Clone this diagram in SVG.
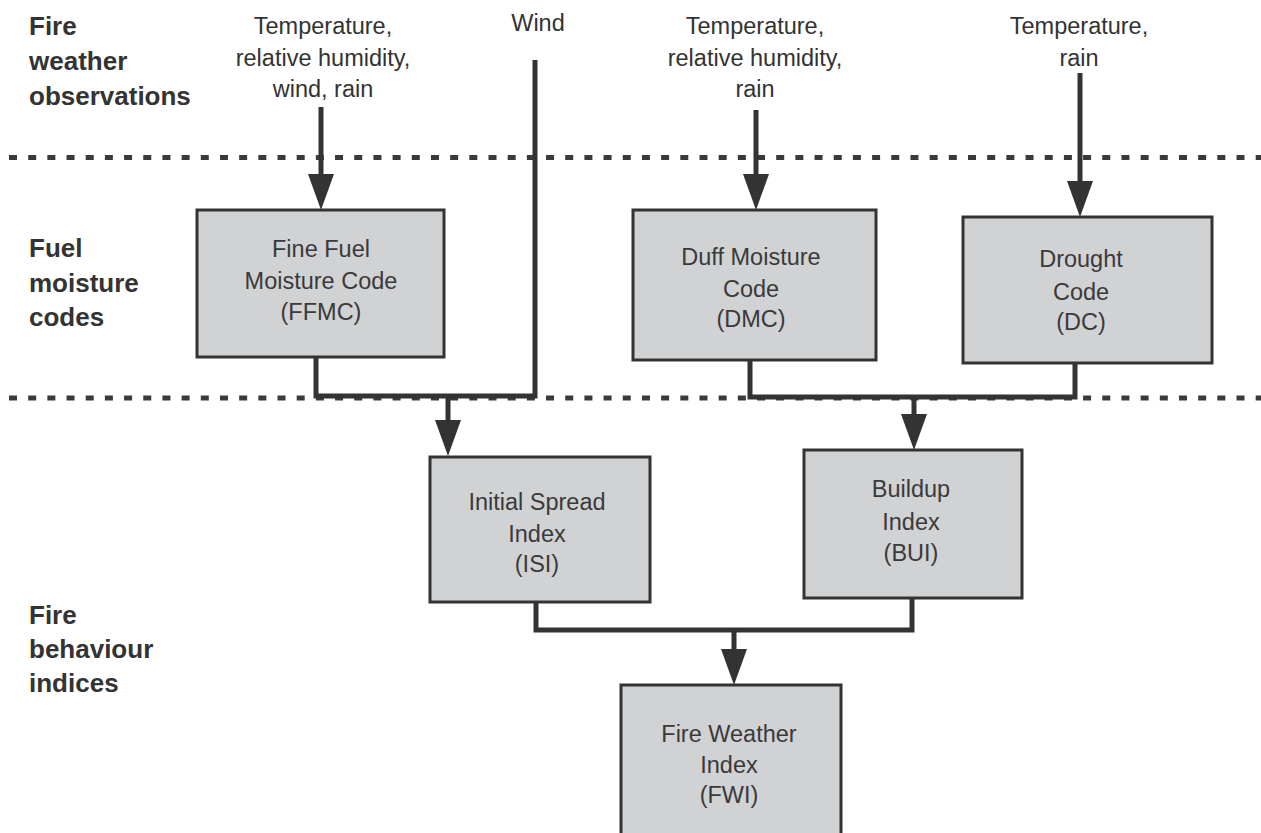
<svg xmlns="http://www.w3.org/2000/svg" width="1261" height="833" viewBox="0 0 1261 833">
<style>
  .lbl { font-family: "Liberation Sans", Arial, sans-serif; font-weight: bold; font-size: 26px; fill: #333; }
  .obs { font-family: "Liberation Sans", Arial, sans-serif; font-size: 23.5px; fill: #333; text-anchor: middle; }
  .txt { font-family: "Liberation Sans", Arial, sans-serif; font-size: 23.5px; fill: #3a3a3a; text-anchor: middle; }
  .box { fill: #d1d2d4; stroke: #333; stroke-width: 3; }
  .dash { stroke: #3a3a3a; stroke-width: 5; stroke-dasharray: 8 11.18; fill: none; }
  .conn { stroke: #333; stroke-width: 5; fill: none; stroke-linejoin: miter; stroke-linecap: butt; }
  .arr { stroke: #333; stroke-width: 5; fill: none; marker-end: url(#ah); }
</style>
<defs>
  <marker id="ah" markerUnits="userSpaceOnUse" markerWidth="37" markerHeight="27" refX="0" refY="13" orient="auto" overflow="visible">
    <path d="M0,0 L36,13 L0,26 z" fill="#333"/>
  </marker>
</defs>
<rect width="1261" height="833" fill="#fff"/>

<g id="section-labels">
  <text class="lbl" x="29" y="35">Fire</text>
  <text class="lbl" x="29" y="70">weather</text>
  <text class="lbl" x="29" y="105">observations</text>
  <text class="lbl" x="29" y="257">Fuel</text>
  <text class="lbl" x="29" y="292">moisture</text>
  <text class="lbl" x="29" y="326">codes</text>
  <text class="lbl" x="29" y="624">Fire</text>
  <text class="lbl" x="29" y="658">behaviour</text>
  <text class="lbl" x="29" y="692">indices</text>
</g>

<g id="separators">
  <line class="dash" x1="9" y1="157.5" x2="1261" y2="157.5"/>
  <line class="dash" x1="9" y1="398" x2="1261" y2="398"/>
</g>

<g id="observations">
  <text class="obs" x="323" y="34">Temperature,</text>
  <text class="obs" x="323" y="66">relative humidity,</text>
  <text class="obs" x="323" y="97">wind, rain</text>
  <text class="obs" x="538" y="31">Wind</text>
  <text class="obs" x="755" y="34">Temperature,</text>
  <text class="obs" x="755" y="66">relative humidity,</text>
  <text class="obs" x="755" y="97">rain</text>
  <text class="obs" x="1079" y="34">Temperature,</text>
  <text class="obs" x="1079" y="66">rain</text>
</g>

<g id="connectors">
  <line class="arr" x1="321" y1="107" x2="321" y2="174"/>
  <line class="arr" x1="756" y1="110" x2="756" y2="174"/>
  <line class="arr" x1="1080" y1="73" x2="1080" y2="181"/>
  <path class="conn" d="M535,60 V396 H316 V357"/>
  <line class="arr" x1="448" y1="394" x2="448" y2="420"/>
  <path class="conn" d="M750,360 V397 H1075 V363"/>
  <line class="arr" x1="914" y1="395" x2="914" y2="414"/>
  <path class="conn" d="M536,602 V630 H912 V598"/>
  <line class="arr" x1="734" y1="628" x2="734" y2="649"/>
</g>

<g id="ffmc">
  <rect class="box" x="197" y="210" width="247" height="147"/>
  <text class="txt" x="321" y="257">Fine Fuel</text>
  <text class="txt" x="321" y="289">Moisture Code</text>
  <text class="txt" x="321" y="320">(FFMC)</text>
</g>
<g id="dmc">
  <rect class="box" x="633" y="210" width="243" height="150"/>
  <text class="txt" x="751" y="265">Duff Moisture</text>
  <text class="txt" x="751" y="297">Code</text>
  <text class="txt" x="751" y="327">(DMC)</text>
</g>
<g id="dc">
  <rect class="box" x="963" y="217" width="249" height="146"/>
  <text class="txt" x="1081" y="267">Drought</text>
  <text class="txt" x="1081" y="300">Code</text>
  <text class="txt" x="1081" y="330">(DC)</text>
</g>
<g id="isi">
  <rect class="box" x="430" y="457" width="220" height="145"/>
  <text class="txt" x="537" y="510">Initial Spread</text>
  <text class="txt" x="537" y="542">Index</text>
  <text class="txt" x="537" y="572">(ISI)</text>
</g>
<g id="bui">
  <rect class="box" x="804" y="450" width="218" height="148"/>
  <text class="txt" x="911" y="497">Buildup</text>
  <text class="txt" x="911" y="530">Index</text>
  <text class="txt" x="911" y="561">(BUI)</text>
</g>
<g id="fwi">
  <rect class="box" x="621" y="685" width="220" height="160"/>
  <text class="txt" x="729" y="742">Fire Weather</text>
  <text class="txt" x="729" y="773">Index</text>
  <text class="txt" x="729" y="803">(FWI)</text>
</g>
</svg>
